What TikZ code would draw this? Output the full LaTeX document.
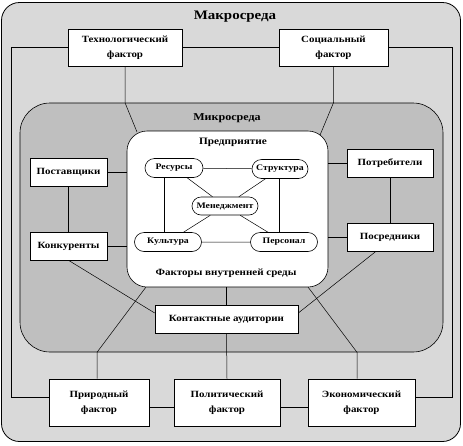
\documentclass[tikz,border=0pt]{standalone}
\usepackage{fontspec}
\setmainfont[FakeStretch=1.15]{Liberation Serif}
\usetikzlibrary{shapes.misc}
\begin{document}
\begin{tikzpicture}[x=1pt,y=-1pt,
 box/.style={draw, fill=white, line width=0.6pt, inner sep=1pt, align=center, font=\bfseries\fontsize{9.5}{14.5}\selectfont},
 pill/.style={draw, fill=white, rounded rectangle, line width=0.6pt, inner sep=0pt, minimum height=19pt, font=\bfseries\fontsize{8.5}{10}\selectfont},
 conn/.style={line width=0.5pt},
 ttl/.style={inner sep=0pt, font=\bfseries\fontsize{9.8}{12}\selectfont}]
\useasboundingbox (0,0) rectangle (463,445);
% areas
\node[draw, fill=gray!30, rounded corners=18pt, minimum width=459pt, minimum height=439pt, line width=0.8pt] (macro) at (231,222) {};
\node[ttl, font=\bfseries\fontsize{13}{16}\selectfont] (macrot) at (235,17) {Макросреда};
\node[draw, fill=gray!50, rounded corners=30pt, minimum width=423pt, minimum height=249pt, line width=0.6pt] (micro) at (231.5,227.5) {};
\node[ttl, font=\bfseries\fontsize{10.5}{13}\selectfont] (microt) at (227,118) {Микросреда};
% boxes
\node[box, minimum width=114pt, minimum height=37pt] (tech) at (125,47.5) {Технологический\\фактор};
\node[box, minimum width=109pt, minimum height=37pt] (soc) at (333.5,47.5) {Социальный\\фактор};
\node[box, minimum width=100pt, minimum height=47pt] (prir) at (99,402.5) {Природный\\фактор};
\node[box, minimum width=106pt, minimum height=47pt] (pol) at (227,402.5) {Политический\\фактор};
\node[box, minimum width=107pt, minimum height=47pt] (eco) at (361.5,402.5) {Экономический\\фактор};
\node[box, minimum width=77pt, minimum height=28pt] (post) at (68.5,172) {Поставщики};
\node[box, minimum width=77pt, minimum height=28pt] (konk) at (68.5,246) {Конкуренты};
\node[box, minimum width=86pt, minimum height=28pt] (potr) at (390,163) {Потребители};
\node[box, minimum width=86pt, minimum height=28pt] (posr) at (390,237) {Посредники};
\node[box, minimum width=143pt, minimum height=28pt] (kont) at (226.5,319) {Контактные аудитории};
% frame and connectors under the enterprise
\coordinate (fl1) at (11,47.5);
\coordinate (fl2) at (11,397);
\coordinate (fr1) at (452,47.5);
\coordinate (fr2) at (452,397);
\coordinate (e1) at (137,132);
\coordinate (e2) at (318,140);
\coordinate (e3) at (146,287);
\coordinate (e4) at (308,287);
\begin{scope}[conn]
\draw (tech.west) -- (fl1) -- (fl2) -- (prir.west |- fl2);
\draw (tech.east) -- (soc.west);
\draw (soc.east) -- (fr1) -- (fr2) -- (eco.east |- fr2);
\draw ([yshift=-4.5pt]prir.east) -- ([yshift=-4.5pt]pol.west);
\draw ([yshift=-4.5pt]pol.east) -- ([yshift=-4.5pt]eco.west);
\draw (tech.south) -- (tech.south |- micro.north) -- (e1);
\draw (soc.south) -- (soc.south |- micro.north) -- (e2);
\draw ([xshift=-2pt]prir.north) -- ([xshift=-2pt]prir.north |- micro.south) -- (e3);
\draw ([xshift=-4.5pt]eco.north) -- ([xshift=-4.5pt]eco.north |- micro.south) -- (e4);
\draw (konk.south) -- ([yshift=6pt]kont.west);
\draw ([xshift=-14pt]posr.south) -- ([yshift=6pt]kont.east);
\draw (kont.south) -- (pol.north);
\draw (post.south) -- (konk.north);
\draw (potr.south) -- (posr.north);
\end{scope}
% enterprise
\node[draw, fill=white, rounded corners=20pt, minimum width=201pt, minimum height=156pt, line width=0.6pt] (ent) at (227.5,209) {};
\node[ttl] (entt) at (233,142) {Предприятие};
\node[ttl, font=\bfseries\fontsize{9.6}{12}\selectfont] (entb) at (226,273) {Факторы внутренней среды};
\begin{scope}[conn]
\draw (post.east) -- (ent.west |- post.east);
\draw (konk.east) -- (ent.west |- konk.east);
\draw (potr.west) -- (ent.east |- potr.west);
\draw (posr.west) -- (ent.east |- posr.west);
\draw (kont.north) -- (kont.north |- ent.south);
\end{scope}
% internal factors
\node[pill, minimum width=58pt] (res) at (174,168) {Ресурсы};
\node[pill, minimum width=56pt] (str) at (280,169) {Структура};
\node[pill, minimum width=66pt, minimum height=18pt] (men) at (225,206) {Менеджмент};
\node[pill, minimum width=67pt] (kul) at (168,242) {Культура};
\node[pill, minimum width=67pt] (per) at (284,242) {Персонал};
\begin{scope}[conn]
\draw (res) -- (str);
\draw (kul) -- (per);
\draw (res.south -| 164,0) -- (kul.north -| 164,0);
\draw (str.south -| 279,0) -- (per.north -| 279,0);
\draw (res) -- (men);
\draw (str) -- (men);
\draw (kul) -- (men);
\draw (per) -- (men);
\end{scope}
\end{tikzpicture}
\end{document}
